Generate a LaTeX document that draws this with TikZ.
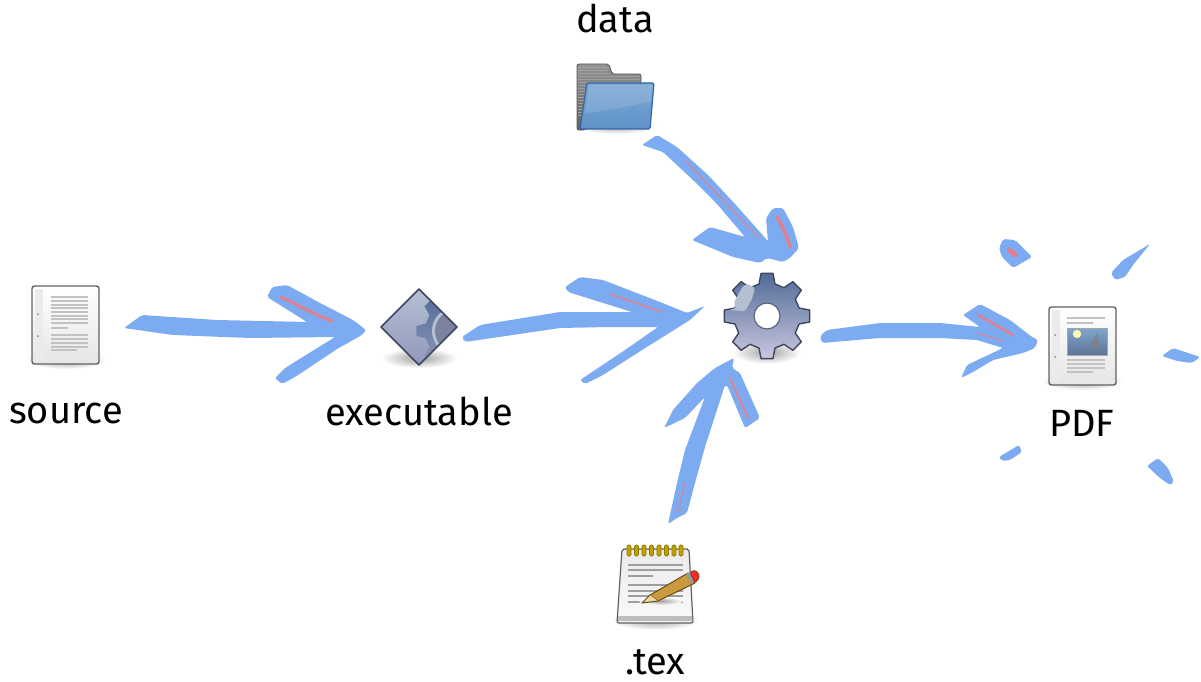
\documentclass[tikz,border=0pt]{standalone}
\usepackage{fontspec}
\setmainfont{Fira Sans}
\definecolor{ink}{HTML}{7DABF2}
\definecolor{redink}{HTML}{E0808F}
\definecolor{pageline}{HTML}{C2C2C2}
\definecolor{gearedge}{HTML}{3F4660}
\definecolor{geartop}{HTML}{506C98}
\definecolor{gearmid}{HTML}{9298BC}
\definecolor{gearlow}{HTML}{CBC6E0}
\definecolor{gearpale}{HTML}{B4C0D2}
\definecolor{folderhi}{HTML}{7DA8D4}
\definecolor{folderlo}{HTML}{5F92C8}
\definecolor{folderedge}{HTML}{3465A4}
\definecolor{ringfill}{HTML}{C4A000}
\definecolor{ringedge}{HTML}{8F7A00}
\definecolor{pencilbody}{HTML}{C99A3E}
\definecolor{penciledge}{HTML}{6B4A10}
\definecolor{woodtip}{HTML}{EAD9A8}
\definecolor{skytop}{HTML}{7FA6CC}
\definecolor{skylow}{HTML}{5F7397}
\tikzset{
  x=1pt,y=-1pt,
  label/.style={font=\fontsize{38}{42}\selectfont,anchor=base,inner sep=0pt,text=black},
  paint/.style={fill=ink,draw=none,rounded corners=2pt},
  redstroke/.style={draw=redink,line width=#1,line cap=round},
  redstroke/.default=3pt,
  shadowblob/.style={inner color=black!38,outer color=white,draw=none},
  lineink/.style={draw=pageline,line width=1.5pt},
  docpage/.pic={
    \shade[shadowblob] (33.5,74) ellipse (40 and 9);
    \shade[top color=white,bottom color=black!10,draw=black!62,line width=1.4pt,rounded corners=2.5pt] (0,0) rectangle (67,78);
    \fill[black!8] (3,3) rectangle (11,75);
    \fill[black!45] (6,28) circle (1) (6,50) circle (1);
  },
}
\begin{document}
\begin{tikzpicture}
\useasboundingbox (0,0) rectangle (1201,682);

% ---------- source icon
\path (32,286) pic {docpage};
\foreach \y in {297,301,305,308,312,316,319,323} \draw[lineink] (51,\y) -- (88,\y);
\draw[lineink] (51,328) -- (68,328);
\foreach \y in {335,339,343,347} \draw[lineink] (51,\y) -- (88,\y);
\draw[lineink] (51,350) -- (77,350);

% ---------- executable icon
\shade[shadowblob] (419,358) ellipse (38 and 10);
\begin{scope}
  \clip (419,289) -- (457,327) -- (419,365) -- (381,327) -- cycle;
  \shade[top color=gearpale,bottom color=gearmid] (381,289) rectangle (457,365);
  \begin{scope}[shift={(456,331)}]
    \shade[top color=geartop,middle color=gearmid!85!black,bottom color=gearmid]
      (76:31) \foreach \a in {90,135,...,405} { -- (\a-14:31) -- (\a-7:40) -- (\a+7:40) -- (\a+14:31) } -- cycle;
    \fill[gearpale] (0,0) circle (24);
    \fill[gearmid!85!black] (0,0) circle (21);
  \end{scope}
\end{scope}
\draw[gearedge,line width=1.5pt,line join=round] (419,289) -- (457,327) -- (419,365) -- (381,327) -- cycle;

% ---------- data folder
\shade[shadowblob] (616,125) ellipse (41 and 9);
\shade[top color=black!42,bottom color=black!62,draw=black!65,line width=.8pt,rounded corners=2pt]
  (577,130) -- (577,64) -- (609,64) -- (612,74) -- (641,74) -- (641,90) -- (585,130) -- cycle;
\foreach \y in {67,70,...,115} \draw[black!38,line width=.6pt] (578,\y) -- (608,\y);
\foreach \y in {76,79,82} \draw[black!38,line width=.6pt] (608,\y) -- (640,\y);
\shade[top color=folderhi,bottom color=folderlo,draw=folderedge,line width=1.2pt,rounded corners=1.5pt]
  (587,83) -- (654,83) -- (650,129) -- (580,129) -- cycle;
\fill[white,opacity=.12] (589,85) -- (652,85) -- (651,102) .. controls (630,105) and (615,110) .. (585,113) -- cycle;

% ---------- gear
\shade[shadowblob] (767,352) ellipse (34 and 12);
\begin{scope}[shift={(767,316)}]
  \shade[top color=geartop,middle color=gearmid,bottom color=gearlow,draw=gearedge,line width=1.4pt,line join=round]
    (76:33) \foreach \a in {90,135,...,405} { -- (\a-14:33) -- (\a-8:43) -- (\a+8:43) -- (\a+14:33) } -- cycle;
  \fill[gearpale,rounded corners=1.5pt] (-38,-6) -- (-31,-8) -- (-33,-14) -- (-24,-30) -- (-19,-32) -- (-12,-28) -- (-15,-17) -- (-22,-5) -- cycle;
  \fill[white] (0,0) circle (13);
  \draw[gearedge!85,line width=1.2pt] (0,0) circle (13);
\end{scope}

% ---------- .tex notepad
\shade[shadowblob] (655,620) ellipse (44 and 10);
\shade[top color=black!8,bottom color=black!2,draw=black!62,line width=1.2pt,rounded corners=2pt]
  (622,549) -- (689,549) -- (693,623) -- (617,623) -- cycle;
\fill[black!26] (618,616) -- (692,616) -- (692.5,621) -- (618,621) -- cycle;
\foreach \y in {565,570,585,591,596,602} \draw[black!38,line width=1.4pt] (628,\y) -- (683,\y);
\draw[black!38,line width=1.4pt] (628,576) -- (653,576);
\foreach \x in {629,636.5,644,651.5,659,666.5,674,681}
  \draw[draw=ringedge,fill=ringfill,line width=.9pt,rounded corners=1.5pt] (\x-2,545) rectangle (\x+2,556);
\shade[shadowblob] (661,601) ellipse (22 and 4);
% pencil
\fill[pencilbody,draw=penciledge,line width=1pt,line join=round]
  (650,595) -- (688,573) -- (695,583) -- (658,601) -- cycle;
\fill[woodtip] (650,595) -- (658,601) -- (642,603) -- cycle;
\draw[penciledge,line width=1pt,line join=round] (650,595) -- (642,603) -- (658,601);
\fill[black!40] (686,574) -- (691,571) -- (695,581) -- (691,584) -- cycle;
\fill[red!85!white,draw=penciledge,line width=.8pt,rounded corners=2pt] (690,572) -- (696,570) -- (700,577) -- (695,583) -- cycle;

% ---------- PDF icon
\path (1049,307) pic {docpage};
\draw[lineink] (1067,318) -- (1105,318);
\draw[lineink] (1067,323) -- (1093,323);
\draw[black!35,line width=.8pt,top color=skytop,bottom color=skylow] (1067,328) rectangle (1107,355);
\fill[white!70!yellow] (1077,334) circle (4.2);
\fill[black!50,opacity=.7] (1097,333) -- (1101,351) -- (1090,346) -- cycle;
\foreach \y in {360,364,368} \draw[lineink] (1067,\y) -- (1105,\y);
\draw[lineink] (1067,372) -- (1093,372);

% ---------- painted arrows
% source -> executable
\path[paint] (124,328) -- (142,315) -- (217,320) -- (307,322) -- (267,297) -- (272,287) -- (287,285)
  -- (320,303) -- (353,320) -- (366,330) -- (362,335) -- (337,349) -- (295,377) -- (282,384) -- (275,378)
  -- (285,368) -- (335,337) -- (250,338) -- (173,335) -- cycle;
\draw[redstroke] (281,297) .. controls (300,306) and (315,315) .. (332,321);

% executable -> gear
\path[paint] (462,337) -- (480,325) -- (560,312) -- (632,312) -- (568,292) -- (565,287) -- (580,277) -- (603,280)
  -- (660,302) -- (687,313) -- (705,306) -- (690,320) -- (642,350) -- (603,375) -- (585,384) -- (580,380)
  -- (625,350) -- (658,327) -- (610,327) -- (560,328) -- (465,342) -- cycle;
\draw[redstroke=1.5pt] (610,294) -- (662,312);

% data -> gear
\path[paint] (642,145) -- (657,135) -- (677,147) -- (708,175) -- (735,204) -- (767,240) -- (768,242) -- (766,218) -- (773,208)
  -- (783,208) -- (793,227) -- (799,248) -- (790,258) -- (783,262) -- (767,258) -- (760,263) -- (733,257)
  -- (692,240) -- (710,227) -- (745,237) -- (717,204) -- (693,180) -- (663,152) -- cycle;
\draw[redstroke=1pt] (685,160) -- (759,238);
\draw[redstroke=3.5pt] (777,217) .. controls (783,227) and (787,237) .. (790,247);

% .tex -> gear
\path[paint] (668,524) -- (677,483) -- (685,450) -- (705,397) -- (685,418) -- (664,428) -- (673,410) -- (697,383) -- (715,368)
  -- (734,358) -- (732,368) -- (740,373) -- (760,418) -- (745,428) -- (727,385) -- (725,385) -- (705,447) -- (695,483) -- (687,513) -- (677,518) -- cycle;
\draw[redstroke=2pt] (730,378) -- (748,418);
\draw[redstroke=1pt] (685,483) -- (678,512);

% gear -> PDF
\path[paint] (820,336) -- (827,330) -- (880,323) -- (940,323) -- (980,327) -- (963,315) -- (980,304) -- (1010,320)
  -- (1032,337) -- (1038,340) -- (1035,348) -- (1023,353) -- (993,360) -- (973,372) -- (961,378) -- (967,365)
  -- (1003,348) -- (977,340) -- (940,338) -- (880,338) -- (822,343) -- cycle;
\draw[redstroke=2.5pt] (978,315) -- (1013,335);
\draw[redstroke=1pt] (977,333) -- (1003,341);

% ---------- sparks round the PDF
\path[paint] (999,248) -- (1003,239) -- (1015,240) -- (1032,257) -- (1013,268) -- (1002,257) -- cycle;
\fill[redink,rounded corners=1.5pt] (1006,250) -- (1010,247) -- (1019,255) -- (1015,258) -- cycle;
\path[paint] (1111,273) -- (1123,260) -- (1150,244) -- (1133,265) -- (1125,277) -- (1115,280) -- cycle;
\path[paint] (1162,356) -- (1173,348) -- (1200,357) -- (1192,363) -- (1177,361) -- cycle;
\path[paint] (1147,466) -- (1158,458) -- (1168,468) -- (1174,482) -- (1170,485) -- (1160,478) -- cycle;
\path[paint] (999,457) -- (1019,445) -- (1022,452) -- (1010,460) -- (1002,461) -- cycle;

% ---------- labels
\node[label] (lsource) at (66,423) {source};
\node[label] (lexec) at (419,425) {executable};
\node[label] (ldata) at (615,33) {data};
\node[label] (ltex) at (655,674) {.tex};
\node[label] (lpdf) at (1082,436) {PDF};
\end{tikzpicture}
\end{document}
